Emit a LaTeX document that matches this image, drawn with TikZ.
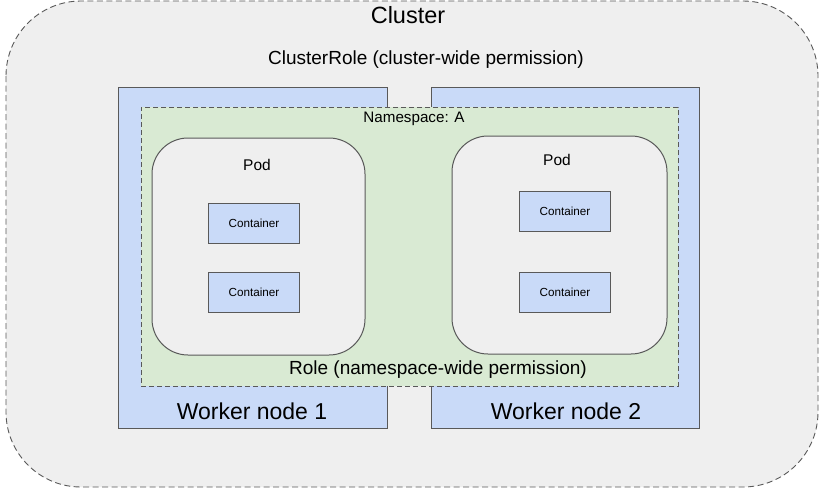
\documentclass[tikz,border=0pt]{standalone}
\usepackage{fontspec}
\setmainfont{Liberation Sans}
\definecolor{clfill}{HTML}{EFEFEF}
\definecolor{wnfill}{HTML}{C9DAF8}
\definecolor{nsfill}{HTML}{D9EAD3}
\definecolor{edge}{HTML}{595959}
\begin{document}
\begin{tikzpicture}[x=1pt,y=-1pt,
  box/.style={draw=edge, line width=1pt, inner sep=0pt, outer sep=0pt},
  wnode/.style={box, fill=wnfill},
  podbox/.style={box, fill=clfill, rounded corners=36pt},
  cbox/.style={box, fill=wnfill, minimum width=91pt, minimum height=40pt, font=\fontsize{11.7}{13}\selectfont},
  lbl/.style={inner sep=0pt, text=black}]
\useasboundingbox (0,0) rectangle (825,490);
\fill[white] (0,0) rectangle (825,490);
% cluster
\draw[draw=edge, dash pattern=on 6pt off 3.5pt, line width=0.9pt, fill=clfill, rounded corners=75pt] (6,1) rectangle (818,487);
\node[lbl, font=\fontsize{23.5}{27}\selectfont] (cl) at (408,15) {Cluster};
\node[lbl, font=\fontsize{19}{22}\selectfont] (cr) at (426,60) {ClusterRole (cluster-wide permission)};
% worker nodes
\node[wnode, minimum width=269pt, minimum height=341pt] (w1) at (252.5,257.5) {};
\node[wnode, minimum width=268pt, minimum height=341pt] (w2) at (565,257.5) {};
% namespace
\node[box, fill=nsfill, dash pattern=on 5pt off 3pt, minimum width=537pt, minimum height=279pt] (ns) at (409.5,246.5) {};
\node[lbl, font=\fontsize{15.2}{18}\selectfont] (nsl) at (414,119) {Namespace: A};
% pods
\node[podbox, minimum width=213pt, minimum height=217pt] (p1) at (258.5,246.5) {};
\node[podbox, minimum width=215pt, minimum height=218pt] (p2) at (559.5,245) {};
\node[lbl, font=\fontsize{15.5}{18}\selectfont] (p1l) at (257,165) {Pod};
\node[lbl, font=\fontsize{15.5}{18}\selectfont] (p2l) at (557,160) {Pod};
% containers
\node[cbox] (c11) at (254,223) {Container};
\node[cbox] (c12) at (254,292) {Container};
\node[cbox] (c21) at (565,211) {Container};
\node[cbox] (c22) at (565,292) {Container};
% labels
\node[lbl, font=\fontsize{19}{22}\selectfont] (rl) at (438,370) {Role (namespace-wide permission)};
\node[lbl, font=\fontsize{23}{27}\selectfont] (w1l) at (252,411) {Worker node 1};
\node[lbl, font=\fontsize{23}{27}\selectfont] (w2l) at (566,411) {Worker node 2};
\end{tikzpicture}
\end{document}
